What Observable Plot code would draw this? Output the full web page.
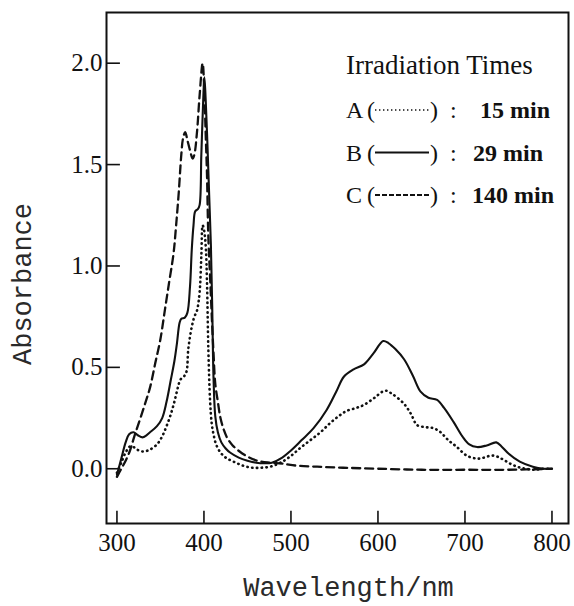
<!DOCTYPE html>
<html><head><meta charset="utf-8">
<script src="https://cdn.jsdelivr.net/npm/d3@7"></script>
<script src="https://cdn.jsdelivr.net/npm/@observablehq/plot@0.6"></script>
<style>
html,body{margin:0;padding:0;background:#fff;}
#chart{position:relative;width:574px;height:606px;overflow:hidden;}
#chart svg.overlay{position:absolute;left:0;top:0;pointer-events:none;}
</style></head><body><div id="chart"></div>
<script>
// ---- data ----
const xTicks = [300, 400, 500, 600, 700, 800];
const yTicks = [0, 0.5, 1.0, 1.5, 2.0];
const xLabel = "Wavelength/nm";
const yLabel = "Absorbance";
const legendTitle = "Irradiation Times";
const seriesNames = ["A", "B", "C"];
const seriesTimes = ["15 min", "29 min", "140 min"];

// A : 15 min (dotted)
const wlA = [300,305,310,315,320,325,331,338,346,352,357,362,366,370,373,377,380,382,386,389,392,395,397,398.5,400,402,403.5,405,407,409,411,414,419,425,434,445,455,465,476,488,499,510,522,534,545,555,564,575,584,596,608,616,630,638,645,655,664,672,681,690,702,714,722,730,737,744,752,760,770,780,790,800];
const absA = [-0.02,0.03,0.08,0.11,0.105,0.09,0.085,0.095,0.12,0.16,0.21,0.27,0.33,0.40,0.44,0.455,0.48,0.59,0.70,0.75,0.78,0.87,1.05,1.20,1.18,1.10,0.92,0.60,0.34,0.22,0.17,0.12,0.08,0.055,0.035,0.015,0.005,0.005,0.01,0.03,0.06,0.10,0.14,0.18,0.225,0.26,0.285,0.30,0.315,0.35,0.385,0.37,0.32,0.27,0.215,0.205,0.20,0.18,0.14,0.11,0.065,0.05,0.055,0.065,0.06,0.045,0.025,0.01,0.0,-0.005,0.0,0.0];

// B : 29 min (solid)
const wlB = [300,305,310,314,319,324,330,338,346,352,357,362,366,369,372,374,378,381,384,386,388,390,393,395,397,399,400.5,402,404,406,408,409.5,411,413,416,420,425,430,440,450,460,470,478,490,500,512,526,541,552,561,572,584,595,606,612,620,630,640,649,658,668,676,687,697,705,714,725,736,742,750,763,778,790,800];
const absB = [-0.03,0.05,0.13,0.17,0.18,0.165,0.155,0.18,0.21,0.25,0.33,0.44,0.53,0.62,0.72,0.74,0.745,0.77,0.90,1.08,1.20,1.27,1.28,1.30,1.55,1.80,1.93,1.82,1.60,1.35,1.10,0.80,0.45,0.26,0.18,0.13,0.10,0.08,0.055,0.04,0.03,0.027,0.03,0.055,0.09,0.14,0.20,0.29,0.38,0.455,0.49,0.515,0.57,0.63,0.62,0.59,0.54,0.46,0.38,0.35,0.34,0.30,0.23,0.16,0.12,0.107,0.115,0.13,0.11,0.075,0.035,0.01,0.0,0.0];

// C : 140 min (dashed)
const wlC = [300,305,310,315,320,327,333,338,344,350,355,360,365,368,371,374,376,378.5,381,384,387,389,392,395,398.5,400.5,402,403.5,405,407,409,411,413,416,419,423,427,433,441,450,461,475,490,507,530,560,600,650,700,750,800];
const absC = [-0.04,0.0,0.04,0.09,0.16,0.25,0.33,0.40,0.52,0.64,0.78,0.92,1.06,1.20,1.36,1.55,1.63,1.66,1.62,1.57,1.53,1.55,1.66,1.84,2.00,1.85,1.65,1.45,1.15,0.95,0.75,0.57,0.42,0.33,0.25,0.19,0.15,0.115,0.085,0.06,0.04,0.03,0.025,0.015,0.01,0.005,0.0,-0.005,-0.005,-0.005,0.0];

// ---- build tables ----
const toRows = (name, wl, ab) => wl.map((w, i) => ({series: name, wl: w, abs: ab[i]}));
const rowsA = toRows("A", wlA, absA);
const rowsB = toRows("B", wlB, absB);
const rowsC = toRows("C", wlC, absC);

const xDomain = [288, 819];
const yDomain = [-0.27, 2.25];
const serif = "'Liberation Serif','Times New Roman',serif";
const mono = "'Liberation Mono','Courier New',monospace";
const ink = "#111";

const chart = Plot.plot({
  width: 574,
  height: 606,
  marginLeft: 106,
  marginRight: 6,
  marginTop: 12,
  marginBottom: 83,
  style: {fontFamily: serif, fontSize: "25px", color: ink, background: "#fff", overflow: "visible"},
  x: {domain: xDomain, ticks: xTicks, tickSize: 0, tickPadding: 10, label: null, tickFormat: d3.format("d")},
  y: {domain: yDomain, ticks: yTicks, tickSize: 0, tickPadding: 4, label: null, tickFormat: d3.format(".1f")},
  marks: [
    Plot.ruleY(yTicks, {y: d => d, x1: xDomain[0], x2: xDomain[0] + 16, stroke: ink, strokeWidth: 1.6}),
    Plot.ruleX(xTicks, {x: d => d, y1: yDomain[0], y2: yDomain[0] + 0.06, stroke: ink, strokeWidth: 1.6}),
    Plot.line(rowsC, {x: "wl", y: "abs", stroke: ink, strokeWidth: 2.3, strokeDasharray: "8,5", curve: "catmull-rom"}),
    Plot.line(rowsA, {x: "wl", y: "abs", stroke: ink, strokeWidth: 2.6, strokeDasharray: "0.4,4.4", strokeLinecap: "round", curve: "catmull-rom"}),
    Plot.line(rowsB, {x: "wl", y: "abs", stroke: ink, strokeWidth: 2.1, curve: "catmull-rom"}),
    Plot.frame({stroke: ink, strokeWidth: 2}),
    Plot.text([xLabel], {text: d => d, frameAnchor: "bottom", textAnchor: "middle", lineAnchor: "middle", dx: 11, dy: 64, fontFamily: mono, fontSize: 27, fill: "#2a2a2a"}),
    Plot.text([yLabel], {text: d => d, frameAnchor: "left", textAnchor: "middle", lineAnchor: "middle", dx: -84, dy: 16, rotate: -90, fontFamily: mono, fontSize: 27, fill: "#2a2a2a"})
  ]
});
const root = document.getElementById("chart");
root.appendChild(chart);

// ---- legend overlay ----
const NS = "http://www.w3.org/2000/svg";
const ov = document.createElementNS(NS, "svg");
ov.setAttribute("class", "overlay");
ov.setAttribute("width", 574);
ov.setAttribute("height", 606);
root.appendChild(ov);
function txt(x, y, s, size, weight, anchor) {
  const t = document.createElementNS(NS, "text");
  t.setAttribute("x", x); t.setAttribute("y", y);
  t.setAttribute("font-family", serif);
  t.setAttribute("font-size", size);
  t.setAttribute("fill", ink);
  if (weight) t.setAttribute("font-weight", weight);
  if (anchor) t.setAttribute("text-anchor", anchor);
  t.textContent = s;
  ov.appendChild(t);
}
txt(346, 74, legendTitle, 27);
const dashes = ["1.4,2.6", null, "5,2"];
const valueX = [480, 473, 472];
seriesNames.forEach((n, i) => {
  const cy = 110 + i * 42.5;
  const base = cy + 8;
  txt(346, base, n, 24);
  txt(367, base, "(", 24);
  txt(430, base, ")", 24);
  txt(450, base, ":", 24);
  txt(valueX[i], base, seriesTimes[i], 24, "bold");
  const l = document.createElementNS(NS, "line");
  l.setAttribute("x1", 375); l.setAttribute("x2", 429);
  l.setAttribute("y1", cy); l.setAttribute("y2", cy);
  l.setAttribute("stroke", ink);
  l.setAttribute("stroke-width", i === 0 ? 1.6 : 1.8);
  if (dashes[i]) l.setAttribute("stroke-dasharray", dashes[i]);
  ov.appendChild(l);
});
</script></body></html>
